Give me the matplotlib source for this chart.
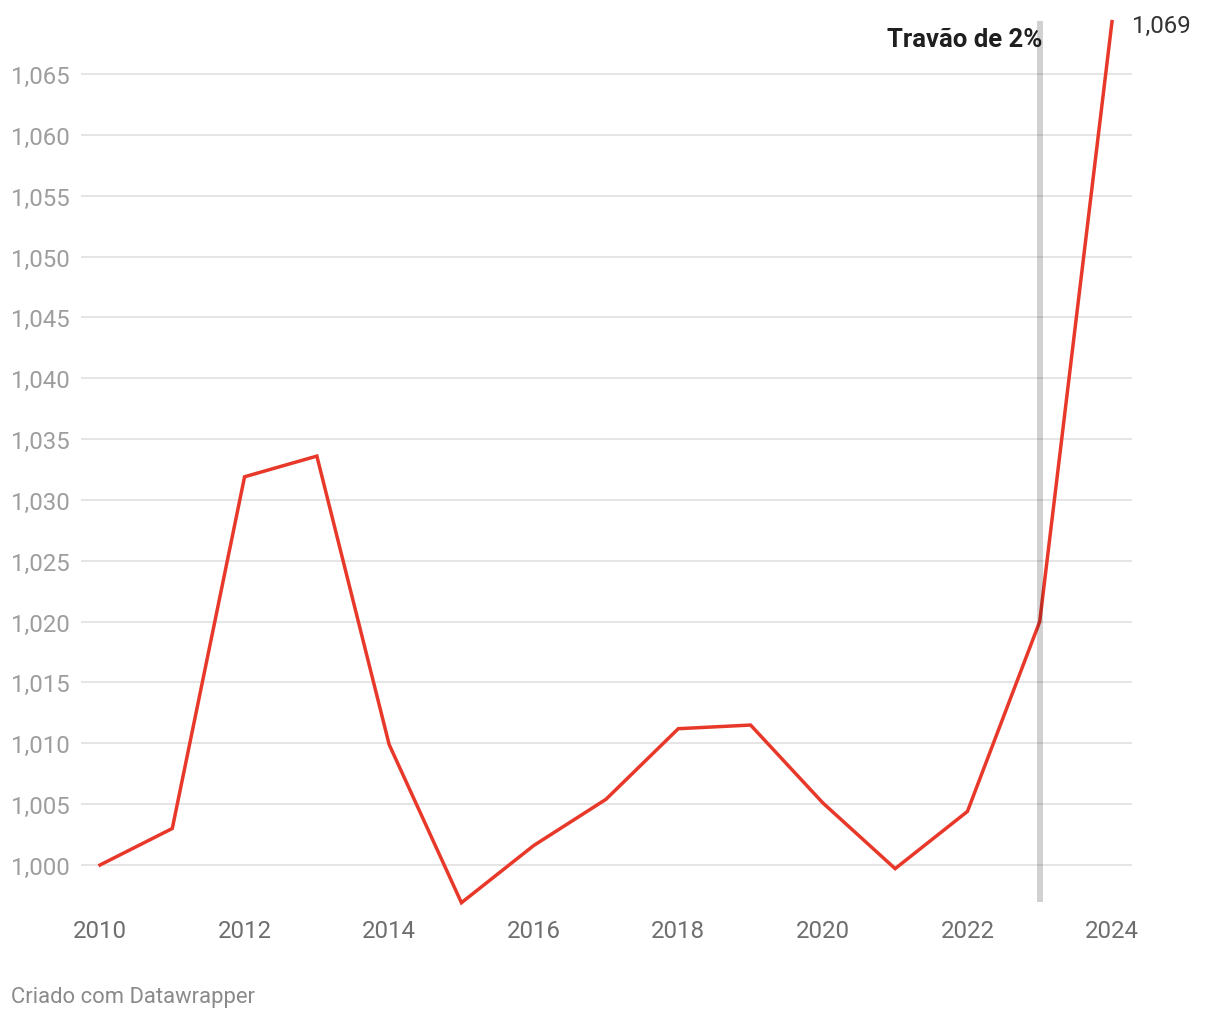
#!/usr/bin/env python3
"""Linha: evolução 2010-2024 com marcação do travão de 2%."""

import matplotlib
matplotlib.use("Agg")
import matplotlib.pyplot as plt
from matplotlib.ticker import FuncFormatter

plt.rcParams["font.family"] = ["Roboto", "DejaVu Sans"]

years = list(range(2010, 2025))
values = [1000.0, 1003.0, 1031.9, 1033.6, 1009.9, 996.9, 1001.6, 1005.4,
          1011.2, 1011.5, 1005.1, 999.7, 1004.4, 1020.0, 1069.3]
y_ticks = list(range(1000, 1066, 5))
x_ticks = list(range(2010, 2025, 2))
marker_year = 2023
marker_label = "Travão de 2%"
last_label = "1,069"

W, H = 1220, 1020
fig = plt.figure(figsize=(W / 100, H / 100), dpi=100)
# area do grafico em pixels: x 81..1132, y 22..903
ax = fig.add_axes([81 / W, 1 - 903 / H, (1132 - 81) / W, (903 - 22) / H])

px_per_unit = 12.17
ax.set_ylim(1000 - 37 / px_per_unit, 1000 + 844 / px_per_unit)
px_per_year = 72.29
ax.set_xlim(2010 - 19 / px_per_year, 2024 + 20 / px_per_year)

for t in y_ticks:
    ax.axhline(t, color="#e3e3e3", linewidth=1.3, zorder=0)

ax.plot(years, values, color="#e8382a", linewidth=2.5, zorder=3,
        solid_joinstyle="miter", clip_on=False)
ax.axvline(marker_year, color="black", alpha=0.18, linewidth=4.3, zorder=4)

ax.set_yticks(y_ticks)
ax.yaxis.set_major_formatter(FuncFormatter(lambda v, p: f"{v:,.0f}"))
ax.set_xticks(x_ticks)
ax.tick_params(axis="y", length=0, pad=8, labelsize=17.3, labelcolor="#9e9e9e")
ax.tick_params(axis="x", length=0, pad=12, labelsize=17.3, labelcolor="#6e6e6e")
for s in ax.spines.values():
    s.set_visible(False)

ax.text(marker_year + 0.04, 1000 + (866 - 40) / px_per_unit, marker_label,
        ha="right", va="center", fontsize=18.5, fontweight="bold", color="#1f1f1f")
ax.text(years[-1] + 0.28, values[-1] - 0.3, last_label, ha="left", va="center",
        fontsize=17.3, color="#333333", clip_on=False)

fig.text(11 / W, 1 - 998 / H, "Criado com Datawrapper", ha="left", va="center",
         fontsize=15.8, color="#8a8a8a")

fig.savefig("out.png", dpi=100)
plt.close(fig)
